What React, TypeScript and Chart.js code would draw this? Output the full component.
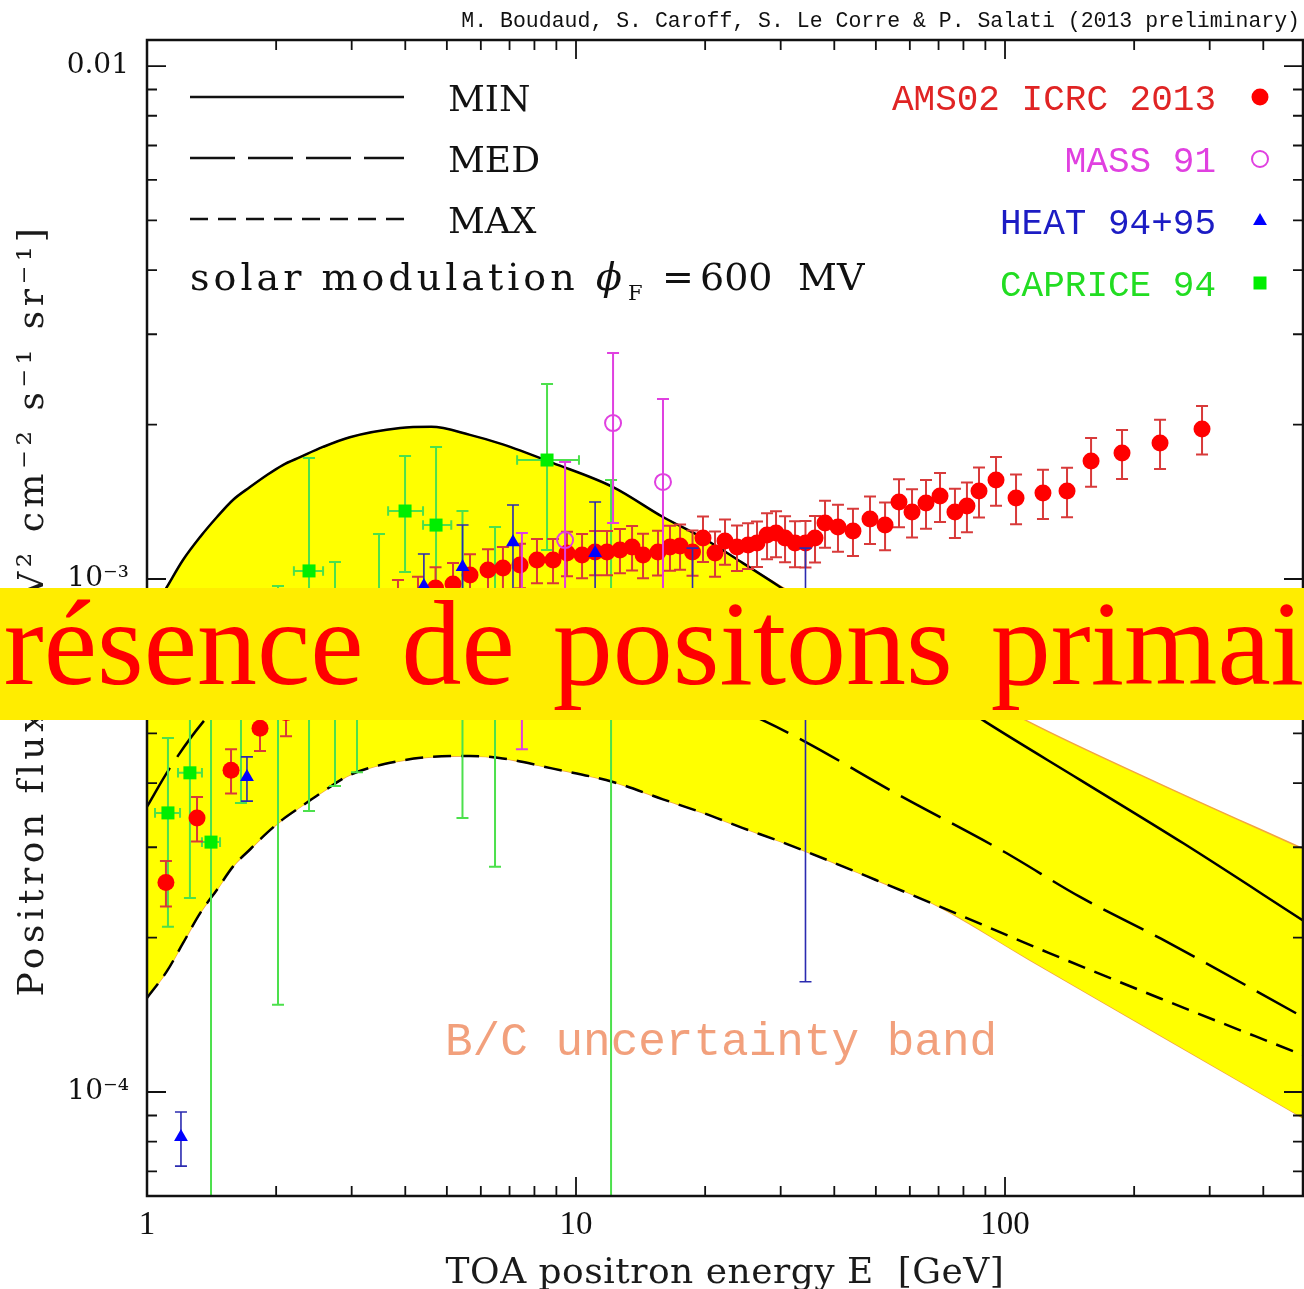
import React, { useEffect, useRef } from 'react';
import { Chart, registerables } from 'chart.js';

Chart.register(...registerables);

// ---------- model curves: E [GeV] vs positron flux ----------
const bandEnergy = [1, 1.113, 1.213, 1.329, 1.456, 1.586, 1.738, 1.904, 2.073, 2.274, 2.571, 2.97, 3.89, 4.6, 5.66, 6.75, 8.84, 12.2, 15.95, 19.77, 24.5, 29.9, 34.5, 50, 68.6, 114, 226, 495];
const bandUpper = [8.3e-4, 9.65e-4, 1.089e-3, 1.207e-3, 1.321e-3, 1.426e-3, 1.511e-3, 1.595e-3, 1.668e-3, 1.728e-3, 1.809e-3, 1.89e-3, 1.97e-3, 1.98e-3, 1.91e-3, 1.83e-3, 1.683e-3, 1.511e-3, 1.321e-3, 1.202e-3, 1.074e-3, 9.7e-4, 9.05e-4, 7.65e-4, 6.64e-4, 5.26e-4, 4.01e-4, 2.98e-4];
const bandLower = [1.525e-4, 1.72e-4, 1.95e-4, 2.23e-4, 2.48e-4, 2.75e-4, 2.97e-4, 3.2e-4, 3.4e-4, 3.59e-4, 3.85e-4, 4.15e-4, 4.42e-4, 4.5e-4, 4.52e-4, 4.47e-4, 4.27e-4, 4.02e-4, 3.72e-4, 3.5e-4, 3.27e-4, 3.08e-4, 2.94e-4, 2.59e-4, 2.32e-4, 1.81e-4, 1.3e-4, 8.9e-5];

const minEnergy = [1, 1.113, 1.213, 1.329, 1.456, 1.586, 1.738, 1.904, 2.073, 2.274, 2.571, 2.97, 3.89, 4.6, 5.66, 6.75, 8.84, 12.2, 15.95, 19.77, 24.5, 29.9, 40, 60, 90.3, 149.6, 261, 495];
const minFlux = [8.3e-4, 9.65e-4, 1.089e-3, 1.207e-3, 1.321e-3, 1.426e-3, 1.511e-3, 1.595e-3, 1.668e-3, 1.728e-3, 1.809e-3, 1.89e-3, 1.97e-3, 1.98e-3, 1.91e-3, 1.83e-3, 1.683e-3, 1.511e-3, 1.321e-3, 1.202e-3, 1.074e-3, 9.65e-4, 8.2e-4, 6.58e-4, 5.26e-4, 4.06e-4, 3.05e-4, 2.16e-4];

const medEnergy = [1, 1.13, 1.35, 1.6, 2, 3, 4, 5.5, 7.5, 10, 15, 20, 27.3, 34.5, 55.4, 99.5, 149.6, 231, 495];
const medFlux = [3.6e-4, 4.28e-4, 5.26e-4, 6.1e-4, 7.0e-4, 8.0e-4, 8.4e-4, 8.5e-4, 8.2e-4, 7.6e-4, 6.6e-4, 5.95e-4, 5.3e-4, 4.8e-4, 3.83e-4, 2.94e-4, 2.4e-4, 1.99e-4, 1.4e-4];

const maxEnergy = [1, 1.113, 1.213, 1.329, 1.456, 1.586, 1.738, 1.904, 2.073, 2.274, 2.571, 2.97, 3.89, 4.6, 5.66, 6.75, 8.84, 12.2, 15.95, 19.77, 24.5, 29.9, 34.5, 50, 68.6, 126, 231, 495];
const maxFlux = [1.525e-4, 1.72e-4, 1.95e-4, 2.23e-4, 2.48e-4, 2.75e-4, 2.97e-4, 3.2e-4, 3.4e-4, 3.59e-4, 3.85e-4, 4.15e-4, 4.42e-4, 4.5e-4, 4.52e-4, 4.47e-4, 4.27e-4, 4.02e-4, 3.72e-4, 3.5e-4, 3.27e-4, 3.08e-4, 2.94e-4, 2.59e-4, 2.32e-4, 1.87e-4, 1.52e-4, 1.18e-4];

// ---------- AMS-02 (ICRC 2013) ----------
const amsEnergy = [
  1.107, 1.308, 1.57, 1.834, 2.109, 2.451, 2.787, 3.137, 3.492, 3.846,
  4.282, 4.705, 5.168, 5.661, 6.235, 6.756, 7.404, 8.11, 8.84, 9.528,
  10.33, 11.08, 11.81, 12.66, 13.51, 14.33, 15.53, 16.56, 17.48, 18.69,
  19.77, 21.09, 22.25, 23.73, 25.18, 26.42, 27.88, 29.26, 30.71, 32.4,
  34.27, 36.07, 38.06, 40.8, 44.22, 48.45, 52.53, 56.61, 60.71, 65.44,
  70.55, 76.44, 81.52, 86.97, 95.29, 106.1, 122.6, 139.5, 158.7, 187.4,
  229.8, 287.9,
];
const amsFlux = [
  2.56e-4, 3.42e-4, 4.24e-4, 5.12e-4, 5.49e-4, 6.08e-4, 6.8e-4, 7.5e-4, 8.25e-4, 9.06e-4,
  9.18e-4, 9.6e-4, 9.78e-4, 1.018e-3, 1.041e-3, 1.051e-3, 1.065e-3, 1.089e-3, 1.089e-3, 1.124e-3,
  1.114e-3, 1.129e-3, 1.129e-3, 1.139e-3, 1.154e-3, 1.114e-3, 1.129e-3, 1.154e-3, 1.16e-3, 1.129e-3,
  1.202e-3, 1.124e-3, 1.186e-3, 1.154e-3, 1.165e-3, 1.175e-3, 1.218e-3, 1.229e-3, 1.202e-3, 1.175e-3,
  1.175e-3, 1.202e-3, 1.286e-3, 1.263e-3, 1.24e-3, 1.309e-3, 1.274e-3, 1.413e-3, 1.351e-3, 1.406e-3,
  1.451e-3, 1.351e-3, 1.388e-3, 1.484e-3, 1.56e-3, 1.439e-3, 1.471e-3, 1.484e-3, 1.698e-3, 1.76e-3,
  1.841e-3, 1.961e-3,
];
const amsError = [
  0.26e-4, 0.34e-4, 0.42e-4, 0.5e-4, 0.55e-4, 0.6e-4, 0.68e-4, 0.74e-4, 0.82e-4, 0.9e-4,
  0.92e-4, 0.94e-4, 0.96e-4, 1.0e-4, 1.02e-4, 1.04e-4, 1.06e-4, 1.08e-4, 1.08e-4, 1.12e-4,
  1.1e-4, 1.12e-4, 1.12e-4, 1.13e-4, 1.15e-4, 1.11e-4, 1.13e-4, 1.16e-4, 1.17e-4, 1.14e-4,
  1.22e-4, 1.14e-4, 1.2e-4, 1.17e-4, 1.19e-4, 1.2e-4, 1.25e-4, 1.26e-4, 1.24e-4, 1.21e-4,
  1.22e-4, 1.25e-4, 1.35e-4, 1.33e-4, 1.31e-4, 1.39e-4, 1.36e-4, 1.52e-4, 1.46e-4, 1.53e-4,
  1.59e-4, 1.49e-4, 1.54e-4, 1.66e-4, 1.7e-4, 1.6e-4, 1.62e-4, 1.64e-4, 1.85e-4, 1.93e-4,
  2.02e-4, 2.12e-4,
];

// ---------- HEAT 94+95 ----------
const heatEnergy = [1.2, 1.71, 4.42, 5.44, 7.13, 11.08, 18.69, 34.27];
const heatFlux = [8.17e-5, 4.11e-4, 9.69e-4, 1.055e-3, 1.18e-3, 1.124e-3, 8.32e-4, 6.08e-4];
const heatLow = [7.17e-5, 3.69e-4, 8.39e-4, 8.74e-4, 9.5e-4, 9.0e-4, 6.08e-4, 1.64e-4];
const heatHigh = [9.14e-5, 4.5e-4, 1.119e-3, 1.274e-3, 1.394e-3, 1.413e-3, 1.149e-3, 1.149e-3];

// ---------- MASS 91 ----------
const massEnergy = [7.48, 9.43, 12.2, 15.95];
const massFlux = [7.6e-4, 1.191e-3, 2.014e-3, 1.546e-3];
const massLow = [4.66e-4, 7.27e-4, 1.286e-3, 8.32e-4];
const massHigh = [1.229e-3, 1.691e-3, 2.757e-3, 2.244e-3];

// ---------- CAPRICE 94 ----------
const capriceEnergy = [1.119, 1.259, 1.41, 1.656, 2.02, 2.386, 2.743, 3.087, 3.474, 3.995, 4.718, 5.437, 6.475, 8.56, 12.07];
const capriceFlux = [3.5e-4, 4.19e-4, 3.07e-4, 6.08e-4, 6.08e-4, 1.037e-3, 6.8e-4, 6.36e-4, 8.51e-4, 1.357e-3, 1.274e-3, 7.6e-4, 6.95e-4, 1.706e-3, 7.6e-4];
const capriceLow = [2.1e-4, 2.39e-4, 4.0e-5, 3.66e-4, 1.48e-4, 3.53e-4, 3.95e-4, 4.2e-4, 5.81e-4, 1.032e-3, 8.51e-4, 3.42e-4, 2.75e-4, 1.139e-3, 4.0e-5];
const capriceHigh = [4.9e-4, 5.81e-4, 7.6e-4, 7.97e-4, 9.69e-4, 1.721e-3, 1.079e-3, 9.1e-4, 1.224e-3, 1.737e-3, 1.808e-3, 1.357e-3, 1.263e-3, 2.4e-3, 1.56e-3];
const capriceEnergyLow = [1.044, 1.181, 1.343, null, null, 2.2, null, null, null, 3.648, 4.4, null, null, 7.29, null];
const capriceEnergyHigh = [1.194, 1.343, 1.48, null, null, 2.573, null, null, null, 4.4, 5.12, null, null, 10.16, null];

// ---------- axes ----------
const xMin = 1;
const xMax = 495;
const yMin = 6.27e-5;
const yMax = 0.01124;
const xTickValues = [1, 2, 3, 4, 5, 6, 7, 8, 9, 10, 20, 30, 40, 50, 60, 70, 80, 90, 100, 200, 300, 400];
const xTickLabels: [number, string][] = [[1, '1'], [10, '10'], [100, '100']];
const yTickValues = [
  7e-5, 8e-5, 9e-5,
  1e-4, 2e-4, 3e-4, 4e-4, 5e-4, 6e-4, 7e-4, 8e-4, 9e-4,
  1e-3, 2e-3, 3e-3, 4e-3, 5e-3, 6e-3, 7e-3, 8e-3, 9e-3,
  1e-2,
];
const yTickLabels: [number, string][] = [[1e-2, '0.01'], [1e-3, '10⁻³'], [1e-4, '10⁻⁴']];

const xTitle = 'TOA positron energy E  [GeV]';
const yTitle = 'Positron flux  [GeV² cm⁻² s⁻¹ sr⁻¹]';
const headerText = 'M. Boudaud, S. Caroff, S. Le Corre & P. Salati (2013 preliminary)';
const propagationModels = ['MIN', 'MED', 'MAX'];
const experimentNames = ['AMS02 ICRC 2013', 'MASS 91', 'HEAT 94+95', 'CAPRICE 94'];
const bandCaption = 'B/C uncertainty band';
const bannerText = 'Présence de positons primaires';

const dashMED = [45, 13];
const dashMAX = [18, 10];
const colors = {
  ams: '#ff0000',
  amsText: '#e02424',
  amsBar: '#d83a3a',
  mass: '#e040e0',
  heat: '#0000ff',
  heatText: '#1c1cc4',
  heatBar: '#2b2bb0',
  caprice: '#00ee00',
  capriceText: '#22dd22',
  capriceBar: '#4ce04c',
  band: '#ffff00',
  bandEdge: '#f2a541',
  caption: '#f2a07c',
};

const pts = (xs: number[], ys: number[]) => xs.map((x, i) => ({ x, y: ys[i] }));
const isDecade = (v: number) => {
  const l = Math.log10(v);
  return Math.abs(l - Math.round(l)) < 1e-6;
};
const labelFor = (v: number, table: [number, string][]) => {
  const hit = table.find(([t]) => Math.abs(Math.log10(t) - Math.log10(v)) < 1e-6);
  return hit ? hit[1] : '';
};

// vertical / horizontal error bars, drawn just before each dataset's markers
const errorBarPlugin = {
  id: 'errorBars',
  beforeDatasetDraw(chart: any, args: any) {
    const ds: any = chart.data.datasets[args.index];
    const eb = ds.errorBars;
    if (!eb) return;
    const { ctx, chartArea: a, scales } = chart;
    const xs = scales.x;
    const ys = scales.y;
    const c = eb.cap / 2;
    ctx.save();
    ctx.beginPath();
    ctx.rect(a.left, a.top, a.right - a.left, a.bottom - a.top);
    ctx.clip();
    ctx.strokeStyle = eb.color;
    ctx.lineWidth = eb.width;
    ds.data.forEach((p: any, i: number) => {
      const px = xs.getPixelForValue(p.x);
      const py = ys.getPixelForValue(p.y);
      const lo = ys.getPixelForValue(eb.low[i]);
      const hi = ys.getPixelForValue(eb.high[i]);
      ctx.beginPath();
      ctx.moveTo(px, lo);
      ctx.lineTo(px, hi);
      ctx.moveTo(px - c, lo);
      ctx.lineTo(px + c, lo);
      ctx.moveTo(px - c, hi);
      ctx.lineTo(px + c, hi);
      if (eb.xLow && eb.xLow[i] != null) {
        const xl = xs.getPixelForValue(eb.xLow[i]);
        const xh = xs.getPixelForValue(eb.xHigh[i]);
        ctx.moveTo(xl, py);
        ctx.lineTo(xh, py);
        ctx.moveTo(xl, py - c * 0.8);
        ctx.lineTo(xl, py + c * 0.8);
        ctx.moveTo(xh, py - c * 0.8);
        ctx.lineTo(xh, py + c * 0.8);
      }
      ctx.stroke();
    });
    ctx.restore();
  },
};

// plot frame with inward ticks on all four sides
const framePlugin = {
  id: 'frameTicks',
  afterDatasetsDraw(chart: any) {
    const { ctx, chartArea: a, scales } = chart;
    ctx.save();
    ctx.strokeStyle = '#111';
    ctx.lineWidth = 1.8;
    ctx.beginPath();
    for (const v of xTickValues) {
      const px = scales.x.getPixelForValue(v);
      const len = isDecade(v) ? 19 : 10;
      ctx.moveTo(px, a.bottom);
      ctx.lineTo(px, a.bottom - len);
      ctx.moveTo(px, a.top);
      ctx.lineTo(px, a.top + len);
    }
    for (const v of yTickValues) {
      const py = scales.y.getPixelForValue(v);
      const len = isDecade(v) ? 19 : 10;
      ctx.moveTo(a.left, py);
      ctx.lineTo(a.left + len, py);
      ctx.moveTo(a.right, py);
      ctx.lineTo(a.right - len, py);
    }
    ctx.stroke();
    ctx.lineWidth = 2.5;
    ctx.strokeRect(a.left, a.top, a.right - a.left, a.bottom - a.top);
    ctx.restore();
  },
};

function drawMarker(ctx: CanvasRenderingContext2D, kind: string, x: number, y: number, color: string) {
  ctx.save();
  ctx.fillStyle = color;
  ctx.strokeStyle = color;
  ctx.beginPath();
  if (kind === 'circle') {
    ctx.arc(x, y, 8.5, 0, Math.PI * 2);
    ctx.fill();
  } else if (kind === 'ring') {
    ctx.lineWidth = 2;
    ctx.arc(x, y, 8, 0, Math.PI * 2);
    ctx.stroke();
  } else if (kind === 'triangle') {
    const r = 8;
    ctx.moveTo(x, y - r);
    ctx.lineTo(x + r * 0.866, y + r * 0.5);
    ctx.lineTo(x - r * 0.866, y + r * 0.5);
    ctx.closePath();
    ctx.fill();
  } else {
    ctx.rect(x - 6.5, y - 6.5, 13, 13);
    ctx.fill();
  }
  ctx.restore();
}

function setSpacing(ctx: any, px: number) {
  if ('letterSpacing' in ctx) ctx.letterSpacing = `${px}px`;
}

// legend block, model key, captions and axis titles
const annotationPlugin = {
  id: 'annotations',
  afterDraw(chart: any) {
    const { ctx, chartArea: a } = chart;
    ctx.save();
    ctx.textBaseline = 'alphabetic';

    ctx.font = '21.5px "Liberation Mono", monospace';
    ctx.fillStyle = '#111';
    ctx.textAlign = 'right';
    ctx.fillText(headerText, 1300, 27);

    // propagation model key
    const dashes = [[], dashMED, dashMAX];
    ctx.textAlign = 'left';
    ctx.font = '36px "DejaVu Serif", serif';
    propagationModels.forEach((name, i) => {
      const y = 97 + 61 * i;
      ctx.save();
      ctx.strokeStyle = '#111';
      ctx.lineWidth = 2.5;
      ctx.setLineDash(dashes[i]);
      ctx.beginPath();
      ctx.moveTo(a.left + 43, y);
      ctx.lineTo(a.left + 257, y);
      ctx.stroke();
      ctx.restore();
      ctx.fillStyle = '#111';
      ctx.fillText(name, a.left + 301, y + 14);
    });

    ctx.font = '38px "DejaVu Serif", serif';
    setSpacing(ctx, 4);
    ctx.fillText('solar modulation', a.left + 43, 290);
    setSpacing(ctx, 0);
    ctx.font = 'italic 38px "DejaVu Serif", serif';
    ctx.fillText('ϕ', a.left + 449, 290);
    ctx.font = '21px "DejaVu Serif", serif';
    ctx.fillText('F', a.left + 481, 300);
    ctx.font = '38px "DejaVu Serif", serif';
    ctx.fillText('=', a.left + 515, 290);
    ctx.fillText('600', a.left + 553, 290);
    ctx.fillText('MV', a.left + 651, 290);

    // experiments
    const textColors = [colors.amsText, colors.mass, colors.heatText, colors.capriceText];
    const markerColors = [colors.ams, colors.mass, colors.heat, colors.caprice];
    const markerKinds = ['circle', 'ring', 'triangle', 'square'];
    ctx.font = '36px "Liberation Mono", monospace';
    ctx.textAlign = 'right';
    experimentNames.forEach((name, i) => {
      const y = 97 + 62 * i;
      ctx.fillStyle = textColors[i];
      ctx.fillText(name, 1216, y + 13);
      drawMarker(ctx, markerKinds[i], 1260, y, markerColors[i]);
    });

    ctx.textAlign = 'left';
    ctx.fillStyle = colors.caption;
    ctx.font = '46px "Liberation Mono", monospace';
    ctx.fillText(bandCaption, 445, 1055);

    // axis titles
    ctx.fillStyle = '#1a1a1a';
    ctx.font = '36px "DejaVu Serif", serif';
    setSpacing(ctx, 0.5);
    ctx.textAlign = 'center';
    ctx.fillText(xTitle, (a.left + a.right) / 2, 1283);
    setSpacing(ctx, 4.5);
    ctx.save();
    ctx.translate(43, 610);
    ctx.rotate(-Math.PI / 2);
    ctx.fillText(yTitle, 0, 0);
    ctx.restore();
    setSpacing(ctx, 0);
    ctx.restore();
  },
};

export default function App() {
  const canvasRef = useRef<HTMLCanvasElement | null>(null);

  useEffect(() => {
    const canvas = canvasRef.current;
    if (!canvas) return;

    const lineBase = { showLine: true, pointRadius: 0, cubicInterpolationMode: 'monotone' as const, fill: false };

    const chart = new Chart(canvas, {
      type: 'line',
      data: {
        datasets: [
          {
            label: 'MASS 91',
            data: pts(massEnergy, massFlux),
            showLine: false,
            pointStyle: 'circle',
            pointRadius: 8,
            pointBorderWidth: 2,
            pointBackgroundColor: 'rgba(0,0,0,0)',
            pointBorderColor: colors.mass,
            order: 1,
            errorBars: { low: massLow, high: massHigh, color: colors.mass, width: 2, cap: 12 },
          } as any,
          {
            label: 'HEAT 94+95',
            data: pts(heatEnergy, heatFlux),
            showLine: false,
            pointStyle: 'triangle',
            pointRadius: 8,
            pointBorderWidth: 0,
            pointBackgroundColor: colors.heat,
            pointBorderColor: colors.heat,
            order: 2,
            errorBars: { low: heatLow, high: heatHigh, color: colors.heatBar, width: 1.6, cap: 12 },
          } as any,
          {
            label: 'AMS02 ICRC 2013',
            data: pts(amsEnergy, amsFlux),
            showLine: false,
            pointStyle: 'circle',
            pointRadius: 8.5,
            pointBorderWidth: 0,
            pointBackgroundColor: colors.ams,
            pointBorderColor: colors.ams,
            order: 3,
            errorBars: {
              low: amsFlux.map((f, i) => f - amsError[i]),
              high: amsFlux.map((f, i) => f + amsError[i]),
              color: colors.amsBar,
              width: 2,
              cap: 12,
            },
          } as any,
          {
            label: 'CAPRICE 94',
            data: pts(capriceEnergy, capriceFlux),
            showLine: false,
            pointStyle: 'rect',
            pointRadius: 9.2,
            pointBorderWidth: 0,
            pointBackgroundColor: colors.caprice,
            pointBorderColor: colors.caprice,
            order: 4,
            errorBars: {
              low: capriceLow,
              high: capriceHigh,
              xLow: capriceEnergyLow,
              xHigh: capriceEnergyHigh,
              color: colors.capriceBar,
              width: 2,
              cap: 12,
            },
          } as any,
          { ...lineBase, label: 'MIN', data: pts(minEnergy, minFlux), borderColor: '#000', borderWidth: 2.5, order: 10 },
          { ...lineBase, label: 'MED', data: pts(medEnergy, medFlux), borderColor: '#000', borderWidth: 2.5, borderDash: dashMED, order: 11 },
          { ...lineBase, label: 'MAX', data: pts(maxEnergy, maxFlux), borderColor: '#000', borderWidth: 2.5, borderDash: dashMAX, order: 12 },
          {
            ...lineBase,
            label: 'band upper',
            data: pts(bandEnergy, bandUpper),
            borderColor: colors.bandEdge,
            borderWidth: 1.5,
            backgroundColor: colors.band,
            fill: '+1',
            order: 20,
          },
          {
            ...lineBase,
            label: 'band lower',
            data: pts(bandEnergy, bandLower),
            borderColor: colors.bandEdge,
            borderWidth: 1.5,
            order: 21,
          },
        ],
      },
      options: {
        responsive: false,
        animation: false,
        devicePixelRatio: 1,
        events: [],
        layout: { padding: { top: 40, right: 1, left: 0, bottom: 0 }, autoPadding: false } as any,
        plugins: {
          legend: { display: false },
          tooltip: { enabled: false },
          title: { display: false },
        },
        scales: {
          x: {
            type: 'logarithmic',
            position: 'bottom',
            min: xMin,
            max: xMax,
            afterBuildTicks: (s: any) => {
              s.ticks = xTickValues.map((v) => ({ value: v }));
            },
            afterFit: (s: any) => {
              s.height = 93;
            },
            grid: { display: false, drawTicks: false },
            border: { display: false },
            ticks: {
              autoSkip: false,
              maxRotation: 0,
              minRotation: 0,
              padding: 10,
              color: '#111',
              font: { family: '"Liberation Serif", serif', size: 33 },
              callback: (v: any) => labelFor(Number(v), xTickLabels),
            },
          },
          y: {
            type: 'logarithmic',
            position: 'left',
            min: yMin,
            max: yMax,
            afterBuildTicks: (s: any) => {
              s.ticks = yTickValues.map((v) => ({ value: v }));
            },
            afterFit: (s: any) => {
              s.width = 147;
            },
            grid: { display: false, drawTicks: false },
            border: { display: false },
            ticks: {
              autoSkip: false,
              padding: 18,
              color: '#111',
              font: { family: '"DejaVu Serif", serif', size: 28 },
              callback: (v: any) => labelFor(Number(v), yTickLabels),
            },
          },
        },
      } as any,
      plugins: [errorBarPlugin, framePlugin, annotationPlugin],
    });

    return () => chart.destroy();
  }, []);

  return (
    <div style={{ position: 'absolute', left: 0, top: 0, width: 1304, height: 1289, overflow: 'hidden', background: '#fff' }}>
      <canvas ref={canvasRef} width={1304} height={1289} style={{ display: 'block', width: 1304, height: 1289 }} />
      <div
        style={{
          position: 'absolute',
          left: 0,
          top: 588,
          width: 1304,
          height: 132,
          background: '#ffed00',
          overflow: 'hidden',
        }}
      >
        <span
          style={{
            position: 'absolute',
            left: -63,
            top: -4,
            whiteSpace: 'nowrap',
            fontFamily: '"Liberation Serif", serif',
            fontSize: 120,
            lineHeight: 1,
            wordSpacing: 8,
            color: '#ff0000',
          }}
        >
          {bannerText}
        </span>
      </div>
    </div>
  );
}
